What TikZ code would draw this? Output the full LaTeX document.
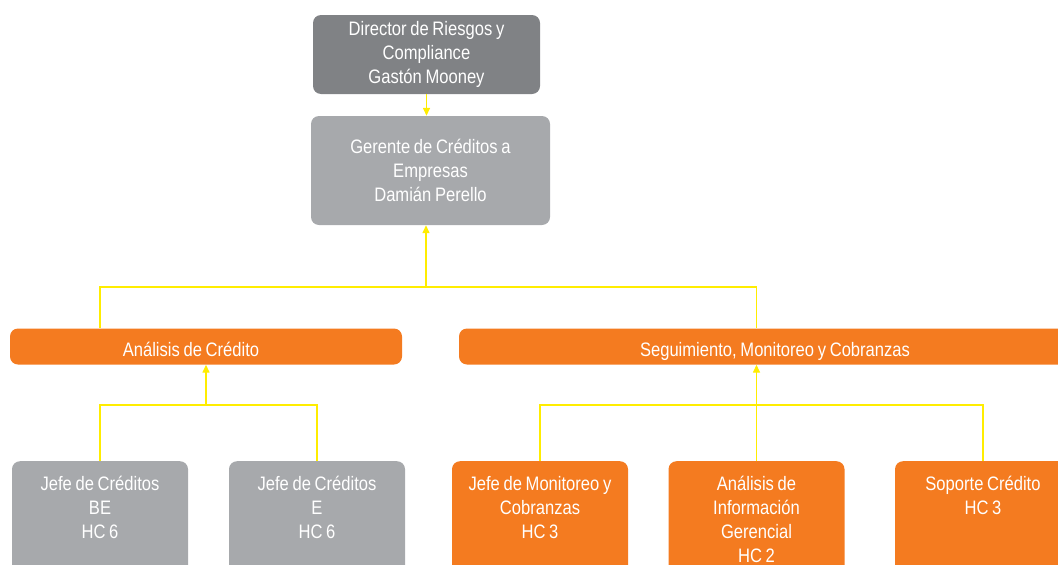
\documentclass[tikz,border=0pt]{standalone}
\usepackage{fontspec}
\setmainfont[FakeStretch=0.85,WordSpace=0.8]{Liberation Sans}
\usetikzlibrary{arrows.meta}
\definecolor{gris-oscuro}{RGB}{128,130,133}
\definecolor{gris-claro}{RGB}{167,169,172}
\definecolor{naranja}{RGB}{244,123,32}
\definecolor{amarillo}{RGB}{255,237,0}

\begin{document}
\begin{tikzpicture}[x=1pt,y=-1pt,
    caja/.style={rounded corners=8pt,text=white,align=center,inner sep=0pt,
      font=\fontsize{19.5}{24}\selectfont},
    jefe/.style={caja,anchor=north,minimum width=176pt,text width=172pt,align=flush center,
      text height=29pt,text depth=120pt},
    barra/.style={caja,fill=naranja,minimum height=36pt,text height=22pt,text depth=3pt},
    linea/.style={draw=amarillo,line width=1.4pt},
    flecha/.style={linea,-{Triangle[length=8pt,width=7pt]}}]
    \useasboundingbox (0,0) rectangle (1058,565);
    \clip (0,0) rectangle (1058,565);
    % direccion y gerencia
    \node[caja,fill=gris-oscuro,minimum width=227pt,minimum height=79pt]
      (dir) at (426.5,54.5) {Director de Riesgos y\\Compliance\\Gastón Mooney};
    \node[caja,fill=gris-claro,minimum width=239pt,minimum height=109pt]
      (ger) at (430.5,170.5) {Gerente de Créditos a\\Empresas\\Damián Perello};
    % areas
    \node[barra,minimum width=392pt] (ana) at (206,346.5) {Análisis de Crédito\hspace*{30pt}};
    \node[barra,minimum width=632pt] (seg) at (775,346.5) {Seguimiento, Monitoreo y Cobranzas};
    % jefaturas
    \node[jefe,fill=gris-claro] (jefeBE) at (100,461) {Jefe de Créditos\\BE\\HC 6};
    \node[jefe,fill=gris-claro] (jefeE) at (317,461) {Jefe de Créditos\\E\\HC 6};
    \node[jefe,fill=naranja] (jefeMon) at (540,461) {Jefe de Monitoreo y\\Cobranzas\\HC 3};
    \node[jefe,fill=naranja] (anaInf) at (756.5,461) {Análisis de\\Información\\Gerencial\\HC 2};
    \node[jefe,fill=naranja] (soporte) at (983,461) {Soporte Crédito\\HC 3};
    % conectores
    \coordinate (h1) at (426,287);
    \coordinate (h2) at (206,405);
    \coordinate (h3) at (756,405);
    \draw[flecha] (dir.south) -- (dir.south |- ger.north);
    \draw[linea] (ana.north -| jefeBE) |- (h1) -| (seg.north -| anaInf);
    \draw[flecha] (h1) -- (h1 |- ger.south);
    \draw[linea] (jefeBE.north) |- (h2) -| (jefeE.north);
    \draw[flecha] (h2) -- (h2 |- ana.south);
    \draw[linea] (jefeMon.north) |- (h3) -| (soporte.north);
    \draw[flecha] (anaInf.north) -- (anaInf.north |- seg.south);
\end{tikzpicture}
\end{document}
